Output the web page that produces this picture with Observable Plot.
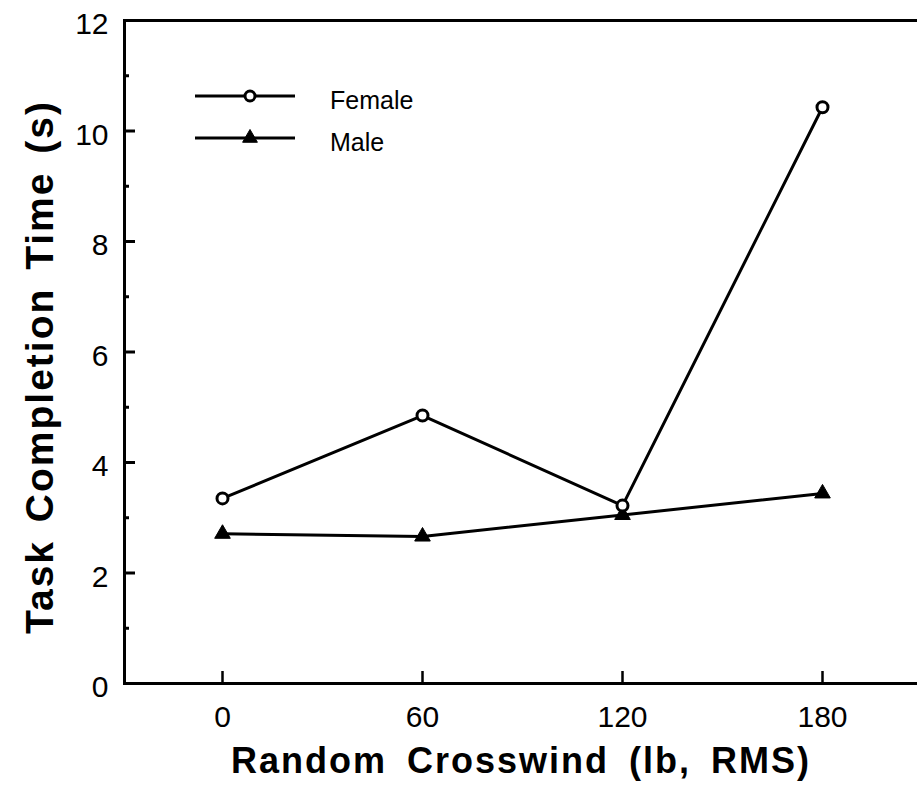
<!DOCTYPE html>
<html>
<head>
<meta charset="utf-8">
<script src="https://cdn.jsdelivr.net/npm/d3@7"></script>
<script src="https://cdn.jsdelivr.net/npm/@observablehq/plot@0.6"></script>
<style>
  body { margin: 0; background: #fff; }
  #wrap { position: relative; width: 917px; height: 786px; font-family: "Liberation Sans", Arial, Helvetica, sans-serif; }
  #legend { position: absolute; left: 0; top: 0; }
</style>
</head>
<body>
<div id="wrap"></div>
<script>
// ---- data ----
const crosswind = [0, 60, 120, 180];
const female = [3.35, 4.85, 3.22, 10.43];
const male = [2.71, 2.66, 3.05, 3.44];
const xTicks = [0, 60, 120, 180];
const yTicks = [0, 2, 4, 6, 8, 10, 12];
const yMinorTicks = [1, 3, 5, 7, 9, 11];
const seriesNames = ["Female", "Male"];
const xTitle = "Random Crosswind (lb, RMS)";
const yTitle = "Task Completion Time (s)";

const fData = crosswind.map((x, i) => ({x, y: female[i]}));
const mData = crosswind.map((x, i) => ({x, y: male[i]}));

const font = "Liberation Sans, Arial, Helvetica, sans-serif";

const chart = Plot.plot({
  width: 917,
  height: 786,
  marginLeft: 124,
  marginRight: 0,
  marginTop: 20,
  marginBottom: 103,
  style: {fontFamily: font, background: "#fff", color: "#000"},
  x: {domain: [-29.4, 208.5]},
  y: {domain: [0, 12]},
  marks: [
    // frame lines
    Plot.frame({anchor: "left", stroke: "#000", strokeWidth: 3}),
    Plot.frame({anchor: "top", stroke: "#000", strokeWidth: 3}),
    Plot.frame({anchor: "bottom", stroke: "#000", strokeWidth: 3}),
    // y axis: major ticks inward, labels, minor ticks
    Plot.axisY({ticks: yTicks, tickSize: -11, text: null, label: null, strokeWidth: 3}),
    Plot.axisY({ticks: yMinorTicks, tickSize: -5, text: null, label: null, strokeWidth: 3}),
    Plot.axisY({ticks: yTicks, tickSize: 0, tickPadding: 16, fontSize: 30, dy: 4, label: null, tickFormat: d => String(d)}),
    // x axis
    Plot.axisX({ticks: xTicks, tickSize: -12, text: null, label: null, strokeWidth: 2.5}),
    Plot.axisX({ticks: xTicks, tickSize: 0, tickPadding: 22, fontSize: 30, label: null, tickFormat: d => String(d)}),
    // titles
    Plot.text([xTitle], {frameAnchor: "bottom", dy: 89, dx: 0, fontSize: 36, fontWeight: "bold", text: d => d}),
    Plot.text([yTitle], {frameAnchor: "left", textAnchor: "middle", rotate: -90, dx: -84, dy: 15, fontSize: 39, fontWeight: "bold", text: d => d}),
    // data
    Plot.line(mData, {x: "x", y: "y", stroke: "#000", strokeWidth: 3}),
    Plot.line(fData, {x: "x", y: "y", stroke: "#000", strokeWidth: 3}),
    Plot.dot(mData, {x: "x", y: "y", symbol: "triangle", r: 5.8, fill: "#000", stroke: "#000", strokeWidth: 1}),
    Plot.dot(fData, {x: "x", y: "y", symbol: "circle", r: 5.5, fill: "#fff", stroke: "#000", strokeWidth: 3})
  ]
});

// widen the title tracking to match the reference
d3.select(chart).selectAll("text").each(function () {
  const t = this.textContent;
  if (t === xTitle) d3.select(this).style("letter-spacing", "2px").style("word-spacing", "8px");
  if (t === yTitle) d3.select(this).style("letter-spacing", "2px").style("word-spacing", "5px");
});

const wrap = document.getElementById("wrap");
wrap.appendChild(chart);

// legend overlay
const leg = d3.create("svg").attr("id", "legend").attr("width", 917).attr("height", 786)
  .attr("font-family", font);
const rows = [
  {name: seriesNames[0], y: 96, sym: d3.symbolCircle, fill: "#fff", size: Math.PI * 25},
  {name: seriesNames[1], y: 138, sym: d3.symbolTriangle, fill: "#000", size: Math.PI * 30}
];
rows.forEach(r => {
  const g = leg.append("g");
  g.append("line").attr("x1", 195).attr("x2", 295).attr("y1", r.y).attr("y2", r.y)
    .attr("stroke", "#000").attr("stroke-width", 3);
  g.append("path").attr("d", d3.symbol(r.sym, r.size)()).attr("transform", `translate(250,${r.y})`)
    .attr("fill", r.fill).attr("stroke", "#000").attr("stroke-width", r.fill === "#fff" ? 3 : 1);
  g.append("text").attr("x", 330).attr("y", r.y + 5).attr("dy", "0.32em").attr("font-size", 25)
    .text(r.name);
});
wrap.appendChild(leg.node());
</script>
</body>
</html>
